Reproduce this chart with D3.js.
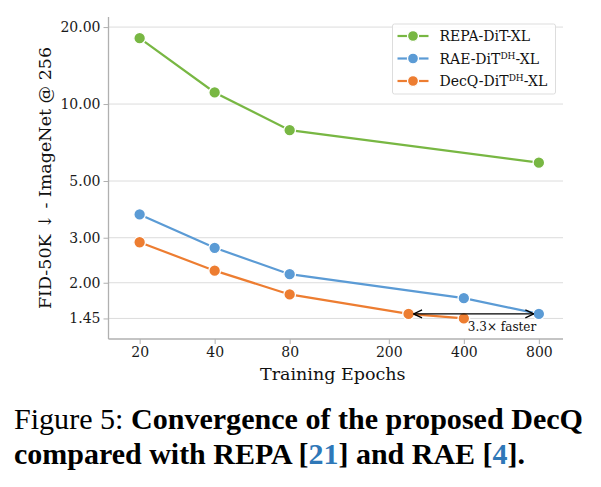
<!DOCTYPE html>
<html>
<head>
<meta charset="utf-8">
<script src="https://cdn.jsdelivr.net/npm/d3@7"></script>
<style>
  body { margin: 0; background: #fff; }
  .graf text { font-family: "DejaVu Serif", serif; }
  .pie text { font-family: "Liberation Serif", "Times New Roman", serif; }
</style>
</head>
<body>
<div id="graf"></div>
<script>
// datos
epocasREPA = [20, 40, 80, 800]
fidREPA    = [18.1, 11.1, 7.9, 5.9]
epocasRAE  = [20, 40, 80, 400, 800]
fidRAE     = [3.70, 2.74, 2.16, 1.74, 1.51]
epocasDecQ = [20, 40, 80, 240, 400]
fidDecQ    = [2.88, 2.23, 1.80, 1.51, 1.45]
ticksX = [20, 40, 80, 200, 400, 800]
ticksY = [1.45, 2, 3, 5, 10, 20]
nombres = ['REPA-DiT-XL', 'RAE-DiT|DH|-XL', 'DecQ-DiT|DH|-XL']
colores = ['#78b743', '#5b9bd5', '#ed7d31']

series = [
  { nombre: nombres[0], color: colores[0], datos: epocasREPA.map((e, i) => ({ x: e, y: fidREPA[i] })) },
  { nombre: nombres[1], color: colores[1], datos: epocasRAE.map((e, i) => ({ x: e, y: fidRAE[i] })) },
  { nombre: nombres[2], color: colores[2], datos: epocasDecQ.map((e, i) => ({ x: e, y: fidDecQ[i] })) }
]

ancho_total = 601
alto_total = 487
margins = { top: 17, left: 108.5, right: 38, bottom: 148 }
ancho = ancho_total - margins.left - margins.right
alto = alto_total - margins.top - margins.bottom

svg = d3.select('#graf').append('svg')
  .attr('width', ancho_total)
  .attr('height', alto_total)

graf = svg.append('g').attr('class', 'graf')
g = graf.append('g')
  .attr('transform', `translate(${margins.left}, ${margins.top})`)

x = d3.scaleLog().domain([15, 1000]).range([0, ancho])
y = d3.scaleLog().domain([1.205, 21.9]).range([alto, 0])

// rejilla horizontal
g.append('g').selectAll('line').data(ticksY).join('line')
  .attr('x1', 0).attr('x2', ancho)
  .attr('y1', d => y(d)).attr('y2', d => y(d))
  .attr('stroke', '#dcdcdc').attr('stroke-width', 1)

// ejes
xAxis = g.append('g')
  .attr('transform', `translate(0,${alto})`)
  .call(d3.axisBottom(x).tickValues(ticksX).tickFormat(d3.format('d')).tickSize(5).tickPadding(3))
yAxis = g.append('g')
  .call(d3.axisLeft(y).tickValues(ticksY).tickFormat(d3.format('.2f')).tickSize(5).tickPadding(3))

;[xAxis, yAxis].forEach(a => {
  a.select('.domain').attr('stroke', '#b0b0b0').attr('stroke-width', 1.3)
  a.selectAll('.tick line').attr('stroke', '#b0b0b0')
  a.selectAll('.tick text').attr('fill', '#1a1a1a').attr('font-size', 14)
})
xAxis.select('.domain').attr('d', `M0,0H${ancho}`)
yAxis.select('.domain').attr('d', `M0,0V${alto}`)

// titulos de ejes
graf.append('text')
  .attr('x', margins.left + ancho / 2 - 3)
  .attr('y', 380)
  .attr('text-anchor', 'middle')
  .attr('font-size', 17.5)
  .attr('fill', '#111')
  .text('Training Epochs')

graf.append('text')
  .attr('transform', `translate(51, ${margins.top + alto / 2}) rotate(-90)`)
  .attr('text-anchor', 'middle')
  .attr('font-size', 17.5)
  .attr('fill', '#111')
  .text('FID-50K ↓ - ImageNet @ 256')

// lineas
linea = d3.line().x(d => x(d.x)).y(d => y(d.y))
series.forEach(s => {
  g.append('path')
    .attr('d', linea(s.datos))
    .attr('fill', 'none')
    .attr('stroke', s.color)
    .attr('stroke-width', 2.2)
  g.append('g').selectAll('circle').data(s.datos).join('circle')
    .attr('cx', d => x(d.x)).attr('cy', d => y(d.y))
    .attr('r', 5.8)
    .attr('fill', s.color)
    .attr('stroke', '#fff')
    .attr('stroke-width', 1.3)
})

// flecha "3.3x faster"
defs = svg.append('defs')
defs.append('marker')
  .attr('id', 'punta')
  .attr('viewBox', '0 0 10 10')
  .attr('refX', 9.5).attr('refY', 5)
  .attr('markerWidth', 10).attr('markerHeight', 10)
  .attr('markerUnits', 'userSpaceOnUse')
  .attr('orient', 'auto-start-reverse')
  .append('path')
  .attr('d', 'M1,1 L9.5,5 L1,9')
  .attr('fill', 'none')
  .attr('stroke', '#000')
  .attr('stroke-width', 1.3)

g.append('line')
  .attr('x1', x(epocasDecQ[3]) + 5).attr('x2', x(epocasRAE[4]) - 5)
  .attr('y1', y(fidRAE[4])).attr('y2', y(fidRAE[4]))
  .attr('stroke', '#000').attr('stroke-width', 1.3)
  .attr('marker-start', 'url(#punta)')
  .attr('marker-end', 'url(#punta)')

g.append('text')
  .attr('x', x(epocasDecQ[4]) + 4)
  .attr('y', y(fidDecQ[4]) + 13)
  .attr('font-size', 12)
  .attr('fill', '#111')
  .text('3.3× faster')

// leyenda
leyenda = graf.append('g').attr('transform', 'translate(392.5, 24)')
leyenda.append('rect')
  .attr('width', 163).attr('height', 70)
  .attr('rx', 2)
  .attr('fill', '#fff').attr('fill-opacity', 0.9)
  .attr('stroke', '#dddddd')
series.forEach((s, i) => {
  fila = leyenda.append('g').attr('transform', `translate(0, ${12 + i * 22.5})`)
  fila.append('line').attr('x1', 5).attr('x2', 36).attr('stroke', s.color).attr('stroke-width', 2.2)
  fila.append('circle').attr('cx', 20.5).attr('r', 5.5).attr('fill', s.color).attr('stroke', '#fff').attr('stroke-width', 1.3)
  t = fila.append('text').attr('x', 47).attr('y', 5).attr('font-size', 14).attr('fill', '#111')
  partes = s.nombre.split('|')
  partes.forEach((p, j) => {
    if (j % 2 === 1) {
      t.append('tspan').attr('font-size', 9).attr('dy', -5).text(p)
    } else {
      t.append('tspan').attr('dy', j > 0 ? 5 : 0).text(p)
    }
  })
})

// pie de figura
pie = svg.append('g').attr('class', 'pie')
l1 = pie.append('text').attr('x', 14).attr('y', 429).attr('font-size', 29).attr('fill', '#000')
  .attr('textLength', 569).attr('lengthAdjust', 'spacingAndGlyphs')
l1.append('tspan').text('Figure 5: ')
l1.append('tspan').attr('font-weight', 'bold').text('Convergence of the proposed DecQ')
l2 = pie.append('text').attr('x', 14).attr('y', 464).attr('font-size', 29).attr('font-weight', 'bold').attr('fill', '#000')
  .attr('textLength', 511).attr('lengthAdjust', 'spacingAndGlyphs')
l2.append('tspan').text('compared with REPA [')
l2.append('tspan').attr('fill', '#2f78b8').text('21')
l2.append('tspan').text('] and RAE [')
l2.append('tspan').attr('fill', '#2f78b8').text('4')
l2.append('tspan').text('].')
</script>
</body>
</html>
